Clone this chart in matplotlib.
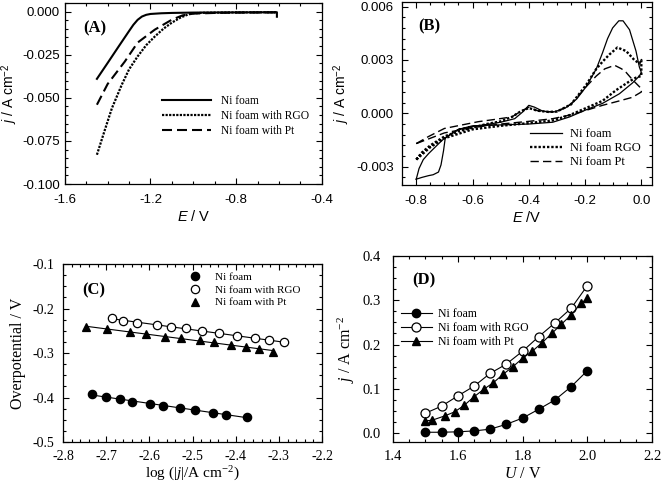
import matplotlib
matplotlib.use('Agg')
import matplotlib.pyplot as plt
import numpy as np
from matplotlib.ticker import MultipleLocator, FormatStrFormatter

plt.rcParams['font.family'] = 'Liberation Serif'
plt.rcParams['axes.unicode_minus'] = False
plt.rcParams['mathtext.fontset'] = 'custom'
plt.rcParams['mathtext.rm'] = 'Liberation Serif'
plt.rcParams['mathtext.it'] = 'Liberation Serif:italic'
plt.rcParams['mathtext.bf'] = 'Liberation Serif:bold'
plt.rcParams['mathtext.sf'] = 'Liberation Sans:italic'
plt.rcParams['mathtext.tt'] = 'Liberation Sans'

# (A) polarisation curves
a_ni_x = [-1.45, -1.40, -1.35, -1.30, -1.28, -1.26, -1.24, -1.22, -1.20, -1.15, -1.10, -1.00, -0.80, -0.61, -0.61]
a_ni_y = [-0.039, -0.0298, -0.0205, -0.0113, -0.0077, -0.0048, -0.0029, -0.0019, -0.0014, -0.0010, -0.0008,
          -0.0006, -0.0005, -0.0004, -0.003]
a_rgo_x = [-1.45, -1.413, -1.38, -1.334, -1.30, -1.26, -1.22, -1.18, -1.14, -1.10, -1.06, -1.025, -1.00, -0.95, -0.80, -0.61]
a_rgo_y = [-0.083, -0.0686, -0.056, -0.0424, -0.0335, -0.026, -0.0195, -0.0145, -0.0100, -0.0064, -0.0035, -0.0017, -0.0010, -0.0007, -0.0005, -0.0004]
a_pt_x = [-1.45, -1.40, -1.32, -1.26, -1.18, -1.10, -1.05, -1.00, -0.90, -0.80, -0.61]
a_pt_y = [-0.054, -0.042, -0.029, -0.018, -0.0105, -0.0047, -0.0022, -0.0012, -0.0008, -0.0006, -0.0005]

# (B) cyclic voltammograms (forward branch then return branch)
b_ni_x = [-0.80, -0.79, -0.775, -0.756, -0.72, -0.70, -0.65, -0.60, -0.50, -0.45, -0.42, -0.40, -0.38, -0.35,
          -0.31, -0.27, -0.23, -0.196, -0.16, -0.138, -0.12, -0.102, -0.08, -0.065, -0.042, -0.019, -0.007, 0.0,
          0.0, -0.007, -0.032, -0.078, -0.138, -0.196, -0.255, -0.315, -0.40, -0.50, -0.60, -0.65, -0.68, -0.697,
          -0.703, -0.712, -0.721, -0.74, -0.756, -0.78, -0.80]
b_ni_y = [-0.0037, -0.0031, -0.0026, -0.00226, -0.0017, -0.0014, -0.0009, -0.00075, -0.0005, -0.0003, 0.0001,
          0.00045, 0.00035, 0.00012, 0.00008, 0.0003, 0.0008, 0.0015, 0.0025, 0.0034, 0.0042, 0.0048, 0.0052, 0.0052,
          0.0047, 0.0035, 0.0026, 0.0023,
          0.0023, 0.0021, 0.0017, 0.0011, 0.00056, 0.0002, -0.0002, -0.0005, -0.0006, -0.00065, -0.0007, -0.0009,
          -0.0012, -0.0014, -0.0021, -0.0029, -0.0033, -0.00345, -0.0035, -0.0036, -0.0037]
b_rgo_x = [-0.80, -0.78, -0.75, -0.70, -0.65, -0.60, -0.55, -0.50, -0.46, -0.43, -0.40, -0.37, -0.33, -0.30, -0.25,
           -0.196, -0.16, -0.138, -0.114, -0.085, -0.054, -0.025, -0.007, 0.0,
           0.0, -0.02, -0.042, -0.09, -0.138, -0.196, -0.255, -0.315, -0.40, -0.50, -0.60, -0.70, -0.75, -0.80]
b_rgo_y = [-0.0026, -0.0022, -0.0018, -0.0013, -0.0010, -0.0008, -0.0006, -0.00045, -0.0002, 0.0001, 0.0003,
           0.00015, 0.00008, 0.0001, 0.0005, 0.0016, 0.0025, 0.0029, 0.0033, 0.0037, 0.0035, 0.0030, 0.0028, 0.0030,
           0.0021, 0.0020, 0.0018, 0.0013, 0.0007, 0.0003, -0.0001, -0.0004, -0.00055, -0.0007, -0.0009, -0.0014,
           -0.0019, -0.0026]
b_pt_x = [-0.80, -0.756, -0.70, -0.64, -0.58, -0.52, -0.46, -0.43, -0.40, -0.37, -0.33, -0.30, -0.25, -0.196, -0.16,
          -0.13, -0.095, -0.07, -0.054, -0.032, -0.007, 0.0,
          0.0, -0.032, -0.078, -0.138, -0.196, -0.255, -0.315, -0.40, -0.50, -0.60, -0.70, -0.75, -0.80]
b_pt_y = [-0.0017, -0.0013, -0.00085, -0.00066, -0.00047, -0.00034, -0.0002, 0.0001, 0.00035, 0.00015, 0.00008,
          0.0001, 0.0005, 0.0015, 0.0021, 0.0025, 0.0027, 0.0025, 0.0023, 0.0019, 0.0015, 0.0014,
          0.0012, 0.0009, 0.0007, 0.00045, 0.00017, -0.0001, -0.0003, -0.00045, -0.0006, -0.0008, -0.0011, -0.0014,
          -0.0017]

# (C) Tafel plots
c_ni_x = [-2.732, -2.701, -2.668, -2.641, -2.598, -2.568, -2.529, -2.494, -2.452, -2.422, -2.373]
c_ni_y = [-0.393, -0.398, -0.403, -0.409, -0.415, -0.419, -0.424, -0.428, -0.434, -0.439, -0.444]
c_rgo_x = [-2.687, -2.660, -2.629, -2.583, -2.550, -2.516, -2.479, -2.438, -2.398, -2.355, -2.323, -2.288]
c_rgo_y = [-0.221, -0.227, -0.233, -0.237, -0.241, -0.244, -0.251, -0.256, -0.262, -0.266, -0.271, -0.276]
c_pt_x = [-2.747, -2.699, -2.645, -2.608, -2.564, -2.527, -2.483, -2.450, -2.411, -2.376, -2.347, -2.313]
c_pt_y = [-0.241, -0.246, -0.253, -0.258, -0.263, -0.267, -0.271, -0.276, -0.281, -0.286, -0.292, -0.297]

# (D) cell current vs voltage
d_ni_x = [1.50, 1.55, 1.60, 1.65, 1.70, 1.75, 1.80, 1.85, 1.90, 1.95, 2.00]
d_ni_y = [0.002, 0.002, 0.003, 0.005, 0.009, 0.020, 0.034, 0.054, 0.075, 0.105, 0.141]
d_rgo_x = [1.50, 1.55, 1.60, 1.65, 1.70, 1.75, 1.80, 1.85, 1.90, 1.95, 2.00]
d_rgo_y = [0.045, 0.061, 0.084, 0.106, 0.135, 0.156, 0.185, 0.218, 0.249, 0.282, 0.333]
d_pt_x = [1.50, 1.52, 1.56, 1.59, 1.62, 1.65, 1.68, 1.71, 1.74, 1.77, 1.80, 1.83, 1.86, 1.89, 1.92, 1.95, 1.98, 2.00]
d_pt_y = [0.028, 0.029, 0.039, 0.048, 0.063, 0.082, 0.099, 0.114, 0.133, 0.150, 0.169, 0.185, 0.204, 0.225,
          0.246, 0.267, 0.293, 0.304]

labels_a = ['Ni foam', 'Ni foam with RGO', 'Ni foam with Pt']
labels_b = ['Ni foam', 'Ni foam RGO', 'Ni foam Pt']

fig = plt.figure(figsize=(6.61, 4.87), dpi=100)
axA = fig.add_axes([0.098, 0.622, 0.389, 0.372])
axB = fig.add_axes([0.608, 0.620, 0.378, 0.376])
axC = fig.add_axes([0.0953, 0.0924, 0.392, 0.3655])
axD = fig.add_axes([0.5946, 0.0924, 0.392, 0.382])

for ax in [axA, axB, axC, axD]:
    ax.tick_params(which='both', direction='in', top=True, right=True, width=0.8)
    ax.tick_params(which='major', length=4)
    ax.tick_params(which='minor', length=2.2)
    for s in ax.spines.values():
        s.set_linewidth(0.9)

dot = (0, (1, 0.6))
dash = (0, (4.8, 2.4))

# Figura A
axA.plot(a_ni_x, a_ni_y, color='black', lw=1.5, label=labels_a[0])
axA.plot(a_rgo_x, a_rgo_y, color='black', lw=1.6, linestyle=dot, label=labels_a[1])
axA.plot(a_pt_x, a_pt_y, color='black', lw=1.5, linestyle=dash, label=labels_a[2])
axA.set_xlim(-1.6, -0.4)
axA.set_ylim(-0.100, 0.005)
axA.xaxis.set_major_locator(MultipleLocator(0.4))
axA.xaxis.set_minor_locator(MultipleLocator(0.1))
axA.yaxis.set_major_locator(MultipleLocator(0.025))
axA.yaxis.set_minor_locator(MultipleLocator(0.005))
axA.xaxis.set_major_formatter(FormatStrFormatter('%.1f'))
axA.yaxis.set_major_formatter(FormatStrFormatter('%.3f'))
axA.tick_params(axis='x', pad=7)
axA.tick_params(axis='y', pad=3.5)
axA.set_xlabel(r'$\mathsf{E}$ / V', family='Liberation Sans', fontsize=10.5, labelpad=2)
axA.set_ylabel(r'$\mathsf{j}$ / A cm$^{\mathtt{-2}}$', family='Liberation Sans', fontsize=10, labelpad=1.5)
axA.legend(loc='upper left', bbox_to_anchor=(0.38, 0.49), frameon=False, fontsize=8.3, borderpad=0,
           borderaxespad=0, handlelength=4.2, handletextpad=0.9, labelspacing=0.25)
axA.text(0.07, 0.86, '(A)', transform=axA.transAxes, fontsize=12, fontweight='bold', va='center')

# Figura B
axB.plot(b_ni_x, b_ni_y, color='black', lw=0.9, label=labels_b[0])
axB.plot(b_rgo_x, b_rgo_y, color='black', lw=1.7, linestyle=(0, (1, 0.8)), label=labels_b[1])
axB.plot(b_pt_x, b_pt_y, color='black', lw=1.0, linestyle=(0, (6, 3)), label=labels_b[2])
axB.set_xlim(-0.851, 0.037)
axB.set_ylim(-0.00403, 0.00626)
axB.xaxis.set_major_locator(MultipleLocator(0.2))
axB.xaxis.set_minor_locator(MultipleLocator(0.05))
axB.yaxis.set_major_locator(MultipleLocator(0.003))
axB.yaxis.set_minor_locator(MultipleLocator(0.0006))
axB.xaxis.set_major_formatter(FormatStrFormatter('%.1f'))
axB.yaxis.set_major_formatter(FormatStrFormatter('%.3f'))
axB.tick_params(axis='x', pad=7)
axB.tick_params(axis='y', pad=6)
axB.set_xlabel(r'$\mathsf{E}$ /V', family='Liberation Sans', fontsize=10.5, labelpad=2)
axB.set_ylabel(r'$\mathsf{j}$ / A cm$^{\mathtt{-2}}$', family='Liberation Sans', fontsize=10, labelpad=3)
axB.legend(loc='upper left', bbox_to_anchor=(0.512, 0.31), frameon=False, fontsize=9, borderpad=0,
           borderaxespad=0, handlelength=2.6, handletextpad=0.65, labelspacing=0.15)
axB.text(0.064, 0.866, '(B)', transform=axB.transAxes, fontsize=12, fontweight='bold', va='center')

for ax in [axA, axB]:
    for t in ax.get_xticklabels() + ax.get_yticklabels():
        t.set_family('Liberation Sans')
        t.set_fontsize(9.5)

# Figura C
for xs, ys, mk, fc, lab in [(c_ni_x, c_ni_y, 'o', 'black', labels_a[0]),
                            (c_rgo_x, c_rgo_y, 'o', 'white', labels_a[1]),
                            (c_pt_x, c_pt_y, '^', 'black', labels_a[2])]:
    p = np.polyfit(xs, ys, 1)
    xx = np.array([xs[0], xs[-1]])
    axC.plot(xx, np.polyval(p, xx), color='black', lw=0.8, zorder=1)
    axC.plot(xs, ys, linestyle='none', marker=mk, markersize=6 if mk == 'o' else 6.2, markerfacecolor=fc,
             markeredgecolor='black', markeredgewidth=0.9, label=lab, zorder=2)
axC.set_xlim(-2.8, -2.2)
axC.set_ylim(-0.5, -0.1)
axC.xaxis.set_major_locator(MultipleLocator(0.1))
axC.xaxis.set_minor_locator(MultipleLocator(0.02))
axC.yaxis.set_major_locator(MultipleLocator(0.1))
axC.yaxis.set_minor_locator(MultipleLocator(0.025))
axC.xaxis.set_major_formatter(FormatStrFormatter('%.1f'))
axC.yaxis.set_major_formatter(FormatStrFormatter('%.1f'))
axC.tick_params(axis='both', labelsize=10, pad=6)
axC.set_xlabel(r'log (|$j$|/A cm$^{-2}$)', fontsize=11, labelpad=1)
axC.set_ylabel('Overpotential / V', fontsize=11.5, labelpad=5)
axC.legend(loc='upper left', bbox_to_anchor=(0.488, 0.952), frameon=False, fontsize=8, borderpad=0,
           borderaxespad=0, handlelength=1.0, handletextpad=1.3, labelspacing=0.25, numpoints=1)
axC.text(0.073, 0.851, '(C)', transform=axC.transAxes, fontsize=12, fontweight='bold', va='center')

# Figura D
axD.plot(d_ni_x, d_ni_y, color='black', lw=0.8, marker='o', markersize=6, markerfacecolor='black',
         markeredgecolor='black', label=labels_a[0])
axD.plot(d_rgo_x, d_rgo_y, color='black', lw=0.8, marker='o', markersize=6.5, markerfacecolor='white',
         markeredgecolor='black', markeredgewidth=0.9, label=labels_a[1])
axD.plot(d_pt_x, d_pt_y, color='black', lw=0.8, marker='^', markersize=6.2, markerfacecolor='black',
         markeredgecolor='black', label=labels_a[2])
axD.set_xlim(1.4, 2.2)
axD.set_ylim(-0.02, 0.4)
axD.xaxis.set_major_locator(MultipleLocator(0.2))
axD.xaxis.set_minor_locator(MultipleLocator(0.05))
axD.yaxis.set_major_locator(MultipleLocator(0.1))
axD.yaxis.set_minor_locator(MultipleLocator(0.025))
axD.xaxis.set_major_formatter(FormatStrFormatter('%.1f'))
axD.yaxis.set_major_formatter(FormatStrFormatter('%.1f'))
axD.tick_params(axis='both', labelsize=10.5)
axD.tick_params(axis='x', pad=6)
axD.tick_params(axis='y', pad=9)
axD.set_xlabel(r'$U$ / V', fontsize=11.5, labelpad=2)
axD.set_ylabel(r'$j$ / A cm$^{-2}$', fontsize=11.5, labelpad=4)
axD.legend(loc='upper left', bbox_to_anchor=(0.031, 0.718), frameon=False, fontsize=8.5, borderpad=0,
           borderaxespad=0, handlelength=2.6, handletextpad=0.5, labelspacing=0.15)
axD.text(0.073, 0.871, '(D)', transform=axD.transAxes, fontsize=12, fontweight='bold', va='center')

fig.savefig('out.png', dpi=100)
